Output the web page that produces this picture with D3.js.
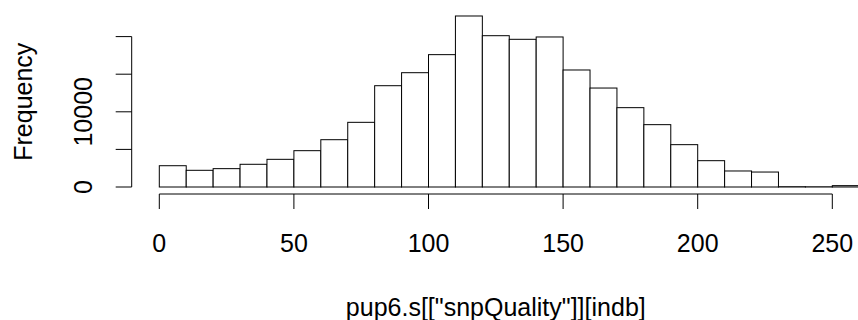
<!DOCTYPE html>
<html>
<head>
<meta charset="utf-8">
<script src="https://cdn.jsdelivr.net/npm/d3@7"></script>
<style>
  body { margin: 0; background: #fff; }
  text { font-family: "Liberation Sans", Arial, sans-serif; font-size: 25px; fill: #000; }
</style>
</head>
<body>
<div id="chart"></div>
<script>
// Histogram bins (left edges, width 10) and counts
var binStarts = [0, 10, 20, 30, 40, 50, 60, 70, 80, 90, 100, 110, 120,
                 130, 140, 150, 160, 170, 180, 190, 200, 210, 220, 230, 240, 250];
var counts = [2830, 2220, 2440, 3020, 3680, 4830, 6290, 8600, 13470, 15200, 17600, 22740, 20120,
              19640, 19950, 15560, 13160, 10550, 8290, 5630, 3500, 2130, 1990, 40, 30, 180];
var binWidth = 10;
var xTicks = [0, 50, 100, 150, 200, 250];
var yTicks = [0, 5000, 10000, 15000, 20000];
var yLabels = [0, 10000];

var width = 858, height = 320;

var svg = d3.select("#chart").append("svg")
    .attr("width", width)
    .attr("height", height);

// Scales: 0 -> x 159.3, 250 -> x 832.3 ; 0 -> y 187, 20000 -> y 36.6
var x = d3.scaleLinear().domain([0, 250]).range([159.3, 832.3]);
var y = d3.scaleLinear().domain([0, 20000]).range([187, 36.6]);

// Bars
svg.selectAll("rect.bar")
    .data(binStarts)
    .enter().append("rect")
    .attr("class", "bar")
    .attr("x", function(d) { return x(d); })
    .attr("y", function(d, i) { return y(counts[i]); })
    .attr("width", x(binWidth) - x(0))
    .attr("height", function(d, i) { return y(0) - y(counts[i]); })
    .attr("fill", "white")
    .attr("stroke", "black")
    .attr("stroke-width", 1);

// X axis (R style: detached below plot)
var xAxisY = 194;
svg.append("line")
    .attr("x1", x(0)).attr("x2", x(250))
    .attr("y1", xAxisY).attr("y2", xAxisY)
    .attr("stroke", "black");

svg.selectAll("line.xtick")
    .data(xTicks)
    .enter().append("line")
    .attr("class", "xtick")
    .attr("x1", function(d) { return x(d); })
    .attr("x2", function(d) { return x(d); })
    .attr("y1", xAxisY).attr("y2", xAxisY + 15)
    .attr("stroke", "black");

svg.selectAll("text.xlab")
    .data(xTicks)
    .enter().append("text")
    .attr("class", "xlab")
    .attr("x", function(d) { return x(d); })
    .attr("y", 251.7)
    .attr("text-anchor", "middle")
    .text(function(d) { return d; });

// Y axis
var yAxisX = 131.7;
svg.append("line")
    .attr("x1", yAxisX).attr("x2", yAxisX)
    .attr("y1", y(0)).attr("y2", y(20000))
    .attr("stroke", "black");

svg.selectAll("line.ytick")
    .data(yTicks)
    .enter().append("line")
    .attr("class", "ytick")
    .attr("x1", yAxisX - 16).attr("x2", yAxisX)
    .attr("y1", function(d) { return y(d); })
    .attr("y2", function(d) { return y(d); })
    .attr("stroke", "black");

svg.selectAll("text.ylab")
    .data(yLabels)
    .enter().append("text")
    .attr("class", "ylab")
    .attr("transform", function(d) { return "translate(91.7," + y(d) + ") rotate(-90)"; })
    .attr("text-anchor", "middle")
    .text(function(d) { return d; });

// Axis titles
svg.append("text")
    .attr("x", (x(0) + x(250)) / 2)
    .attr("y", 316)
    .attr("text-anchor", "middle")
    .text('pup6.s[["snpQuality"]][indb]');

svg.append("text")
    .attr("transform", "translate(31.7,101.7) rotate(-90)")
    .attr("text-anchor", "middle")
    .text("Frequency");
</script>
</body>
</html>
